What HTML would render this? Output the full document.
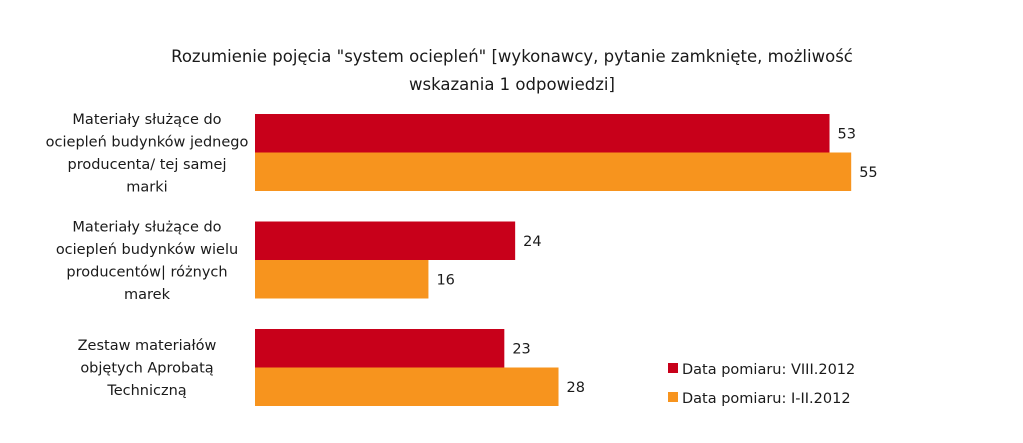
<!DOCTYPE html>
<html><head><meta charset="utf-8"><style>
body{margin:0;background:#fff}
svg text{font-family:"DejaVu Sans","Liberation Sans",sans-serif;fill:#1a1a1a}
</style></head><body>
<svg id="chart" width="1023" height="438" xmlns="http://www.w3.org/2000/svg">
<text x="512" y="62" text-anchor="middle" font-size="16.5">Rozumienie pojęcia "system ociepleń" [wykonawcy, pytanie zamknięte, możliwość</text>
<text x="512" y="90" text-anchor="middle" font-size="16.5">wskazania 1 odpowiedzi]</text>
<g id="bars"></g>
<g id="labels"></g>
<g>
<rect x="668" y="363" width="10" height="10" fill="#c8001a"/>
<text x="682" y="374" font-size="14.5">Data pomiaru: VIII.2012</text>
<rect x="668" y="392" width="10" height="10" fill="#f7941e"/>
<text x="682" y="403" font-size="14.5">Data pomiaru: I-II.2012</text>
</g>
</svg>
<script>
const categories=[["Materiały służące do","ociepleń budynków jednego","producenta/ tej samej","marki"],["Materiały służące do","ociepleń budynków wielu","producentów| różnych","marek"],["Zestaw materiałów","objętych Aprobatą","Techniczną"]];
const seriesNames=["VIII.2012","I-II.2012"];
const seriesA=[53,24,23];
const seriesB=[55,16,28];
const colors=["#c8001a","#f7941e"];
const NS="http://www.w3.org/2000/svg";
const x0=255, unit=10.84;
const xs=v=>x0+v*unit;
const groupTop=i=>114+i*107.5;
const barH=38.5;
const gb=document.getElementById('bars'), gl=document.getElementById('labels');
[seriesA,seriesB].forEach((s,si)=>{
 s.forEach((v,i)=>{
  const y=groupTop(i)+si*barH;
  const r=document.createElementNS(NS,'rect');
  
  
  r.setAttribute('x',x0);r.setAttribute('y',y);
  r.setAttribute('width',xs(v)-x0);r.setAttribute('height',barH);
  r.setAttribute('fill',colors[si]);gb.appendChild(r);
  const t=document.createElementNS(NS,'text');
  
  
  t.setAttribute('x',xs(v)+8);t.setAttribute('y',y+barH/2+5);
  t.setAttribute('font-size','14.5');t.textContent=v;gb.appendChild(t);
 });
});
categories.forEach((lines,i)=>{
 const cy=groupTop(i)+barH;
 const lh=22.5;
 const start=cy-(lines.length-1)*lh/2+5;
 lines.forEach((ln,j)=>{
  const t=document.createElementNS(NS,'text');
  
  
  t.setAttribute('x',147);t.setAttribute('y',start+j*lh);
  t.setAttribute('text-anchor','middle');t.setAttribute('font-size','14.5');
  t.textContent=ln;gl.appendChild(t);
 });
});
</script>
</body></html>
